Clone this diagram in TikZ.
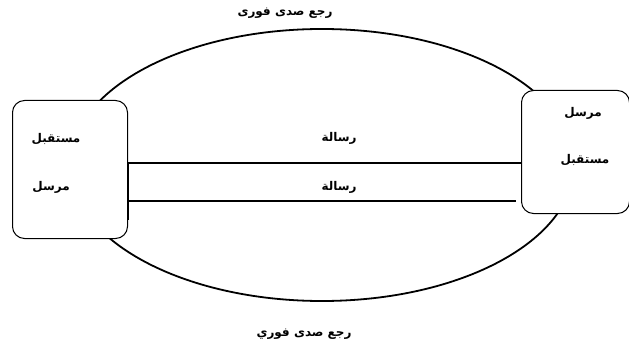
\documentclass[tikz,border=0pt]{standalone}
\usepackage{fontspec}
\newfontfamily\arabicfont[Script=Arabic]{DejaVu Sans}
\TeXXeTstate=1
\begin{document}
\begin{tikzpicture}[x=1pt,y=-1pt,
  box/.style={draw,line width=1pt,rounded corners=12pt,fill=white,inner sep=0pt},
  msg/.style={line width=2.4pt},
  loop/.style={line width=1.8pt},
  ar/.style={font=\arabicfont\bfseries\fontsize{12}{14}\selectfont,inner sep=1pt}]
\useasboundingbox (0,0) rectangle (629,350);
\draw[loop] (322,165) ellipse [x radius=252, y radius=136];
\node[box,minimum width=115pt,minimum height=138pt,anchor=north west] (L) at (12,100) {};
\node[box,minimum width=108pt,minimum height=123pt,anchor=north west] (R) at (521,90) {};
\coordinate (m1) at (0,163);
\coordinate (m2) at (0,201);
\coordinate (m3) at (0,220);
\coordinate (e2) at (516,201);
\draw[msg] (L.east |- m1) -- (R.west |- m1);
\draw[msg] (L.east |- m2) -- (e2);
\draw[line width=1.8pt] (L.east |- m1) -- (L.east |- m3);
\node[ar] (t1) at (285,13) {\beginR رجع صدى فورى\endR};
\node[ar] (t2) at (304,334) {\beginR رجع صدى فوري\endR};
\node[ar] (r1) at (339,138) {\beginR رسالة\endR};
\node[ar] (r2) at (339,187) {\beginR رسالة\endR};
\node[ar] (l1) at (56,139) {\beginR مستقبل\endR};
\node[ar] (l2) at (51,187) {\beginR مرسل\endR};
\node[ar] (q1) at (583,113) {\beginR مرسل\endR};
\node[ar] (q2) at (585,160) {\beginR مستقبل\endR};
\end{tikzpicture}
\end{document}
